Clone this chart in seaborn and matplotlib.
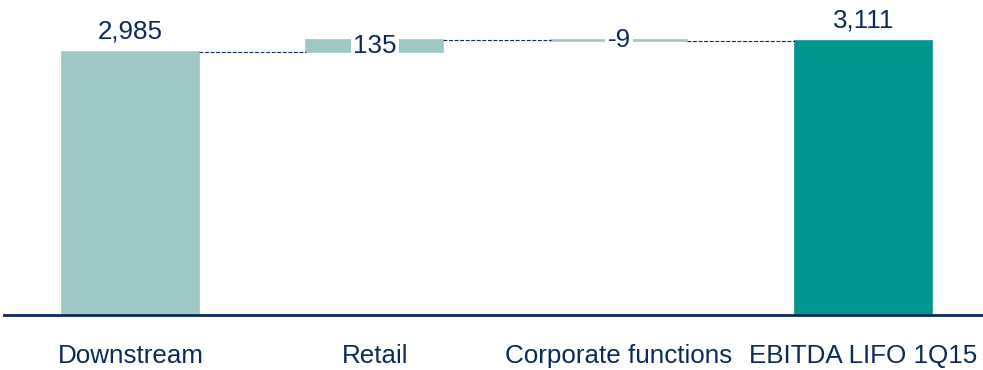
import matplotlib
matplotlib.use("Agg")
import matplotlib.pyplot as plt
import seaborn as sns
import numpy as np

categories = ["Downstream", "Retail", "Corporate functions", "EBITDA LIFO 1Q15"]
deltas = [2985, 135, -9, 3111]
is_total = [True, False, False, True]
labels = ["2,985", "135", "-9", "3,111"]

light = "#9ec8c6"
dark = "#00968f"
navy = "#0b2a5a"

# compute bottoms / heights for waterfall
bottoms, heights, tops = [], [], []
running = 0
for d, t in zip(deltas, is_total):
    if t:
        bottoms.append(0)
        heights.append(d)
        running = d
    else:
        bottoms.append(running)
        heights.append(d)
        running = running + d
    tops.append(running)

sns.set_theme(style="white")
plt.rcParams["font.family"] = ["Liberation Sans", "DejaVu Sans"]

fig = plt.figure(figsize=(9.83, 3.70), dpi=100)
ax = fig.add_axes([4 / 983, 55 / 370, 979 / 983, 315 / 370])

bar_w = 0.56
sns.barplot(x=categories, y=heights, bottom=bottoms, color=light, width=bar_w,
            ax=ax, linewidth=0, saturation=1)
colors = [light, light, light, dark]
for p, c in zip(ax.patches, colors):
    p.set_facecolor(c)
    p.set_edgecolor(c)
    p.set_linewidth(1.2)

# connectors
for i in range(len(categories) - 1):
    y = tops[i]
    ax.plot([i + bar_w / 2, i + 1 - bar_w / 2], [y, y], color=navy, lw=0.8,
            dashes=(3.5, 1.5), zorder=1)

fs = 18.7
for i, (lab, t) in enumerate(zip(labels, is_total)):
    if t:
        ax.text(i, tops[i] + 95, lab, ha="center", va="bottom", fontsize=fs, color=navy)
    else:
        mid = bottoms[i] + heights[i] / 2
        ax.text(i, mid, lab, ha="center", va="center", fontsize=fs, color=navy,
                bbox=dict(facecolor="white", edgecolor="none", pad=1.5))

ax.set_xlim(-0.518, 3.49)
ax.set_ylim(0, 3575)
ax.set_yticks([])
ax.set_xlabel("")
ax.set_ylabel("")
for s in ["top", "right", "left"]:
    ax.spines[s].set_visible(False)
ax.spines["bottom"].set_color(navy)
ax.spines["bottom"].set_linewidth(2)
ax.tick_params(axis="x", length=0, pad=21, labelsize=fs, labelcolor=navy)

fig.savefig("out.png", dpi=100)
